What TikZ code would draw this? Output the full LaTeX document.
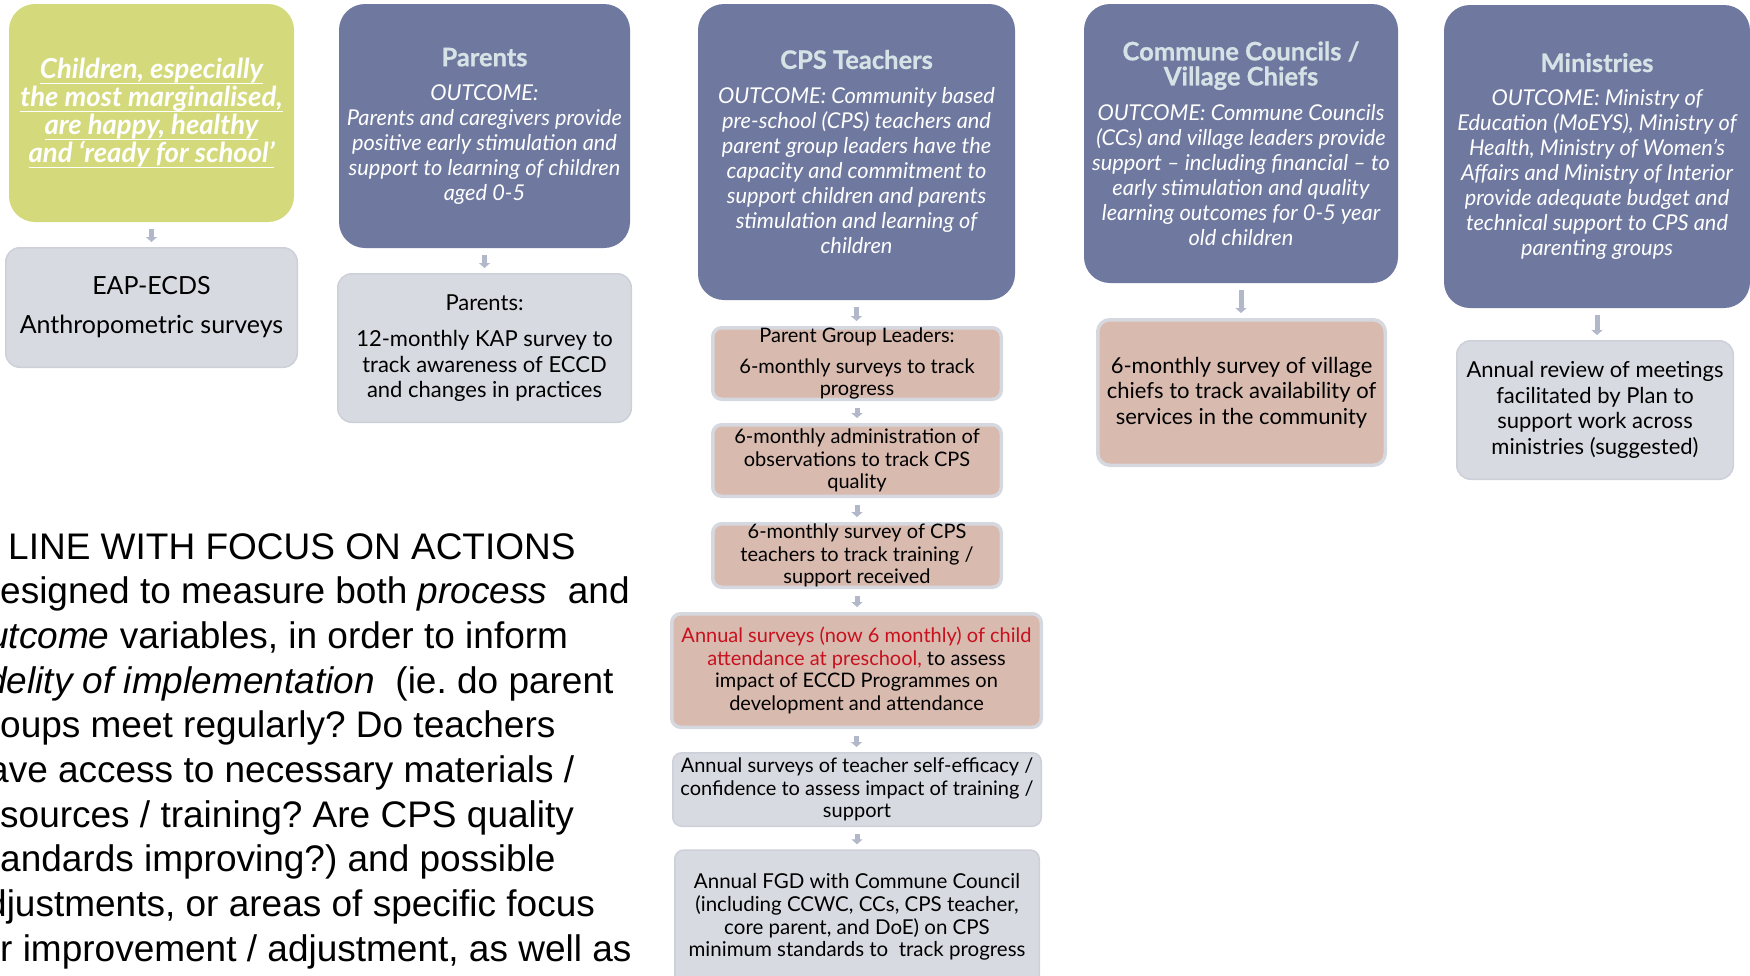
\documentclass[tikz,border=0pt]{standalone}
\usepackage{fontspec}
\usetikzlibrary{arrows.meta}
\setmainfont{Lato}
\newfontfamily\notefont{Liberation Sans}
\definecolor{goalgreen}{RGB}{212,218,123}
\definecolor{outcomeblue}{RGB}{111,121,160}
\definecolor{titleblue}{RGB}{214,226,230}
\definecolor{measuregrey}{RGB}{216,218,225}
\definecolor{measureedge}{RGB}{205,208,217}
\definecolor{trackpink}{RGB}{216,186,175}
\definecolor{trackedge}{RGB}{214,216,224}
\definecolor{arrowgrey}{RGB}{178,183,202}
\definecolor{planred}{RGB}{200,16,30}
\newcommand\outtitle[1]{{\color{titleblue}\upshape\bfseries\fontsize{25.5}{26}\selectfont\addfontfeature{FakeBold=0.8}#1}}
% underline at a fixed depth below the baseline
\newcommand\uln[1]{\setbox0\hbox{#1}\rlap{\rule[-5.5pt]{\wd0}{1.2pt}}\box0}
\frenchspacing
\begin{document}
\begin{tikzpicture}[x=1pt, y=-1pt, line join=round,
	goalbox/.style={fill=goalgreen, rounded corners=26pt, text=white, align=center, inner sep=0pt, font=\fontsize{27.5}{28}\selectfont\bfseries\itshape},
	outcome/.style={fill=outcomeblue, rounded corners=26pt, text=white, align=center, inner sep=0pt, font=\fontsize{21.8}{25}\selectfont\itshape},
	measure/.style={fill=measuregrey, draw=measureedge, line width=1.5pt, rounded corners=14pt, align=center, inner sep=0pt, font=\fontsize{22}{25.5}\selectfont},
	track/.style={fill=trackpink, draw=trackedge, line width=3.5pt, rounded corners=12pt, align=center, inner sep=0pt, font=\fontsize{22}{25.5}\selectfont},
	small/.style={rounded corners=9pt, font=\fontsize{20}{22.5}\selectfont},
	note/.style={inner sep=0pt, font=\notefont\fontsize{37}{44}\selectfont\frenchspacing},
	flow/.style={arrowgrey, line width=5pt, -{Triangle[width=11pt,length=5pt]}, shorten <=7pt, shorten >=5pt}]
	\useasboundingbox (0,0) rectangle (1750,975);
	\fill[white] (0,0) rectangle (1750,975);
	\clip (0,0) rectangle (1750,975);

	% outcome row
	\node[goalbox, minimum width=285, minimum height=218] (goal) at (151.5,113)
		{\uln{Children, especially}\\\uln{the most marginalised,}\\\uln{are happy, healthy}\\\uln{and ‘ready for school’}};
	\node[outcome, minimum width=291, minimum height=244] (par) at (484.5,126)
		{\outtitle{Parents}\\[9pt]OUTCOME:\\Parents and caregivers provide\\positive early stimulation and\\support to learning of children\\aged 0-5};
	\node[outcome, minimum width=317, minimum height=296] (cps) at (856.5,152)
		{\outtitle{CPS Teachers}\\[10pt]OUTCOME: Community based\\pre-school (CPS) teachers and\\parent group leaders have the\\capacity and commitment to\\support children and parents\\stimulation and learning of\\children};
	\node[outcome, minimum width=314, minimum height=279] (cc) at (1241,143.5)
		{\outtitle{Commune Councils /}\\\outtitle{Village Chiefs}\\[10pt]OUTCOME: Commune Councils\\(CCs) and village leaders provide\\support – including financial – to\\early stimulation and quality\\learning outcomes for 0-5 year\\old children};
	\node[outcome, minimum width=306, minimum height=303] (min) at (1597,156.5)
		{\outtitle{Ministries}\\[9pt]OUTCOME: Ministry of\\Education (MoEYS), Ministry of\\Health, Ministry of Women’s\\Affairs and Ministry of Interior\\provide adequate budget and\\technical support to CPS and\\parenting groups};

	% measures
	\node[measure, minimum width=291.5, minimum height=119.5, font=\fontsize{25}{28}\selectfont] (eap) at (151.5,307.5)
		{EAP-ECDS\\[11pt]Anthropometric surveys};
	\node[measure, minimum width=293.5, minimum height=148.5] (kap) at (484.5,348)
		{Parents:\\[11pt]12-monthly KAP survey to\\track awareness of ECCD\\and changes in practices};
	\node[track, small, minimum width=288.5, minimum height=71.5] (pgl) at (857,363.5)
		{Parent Group Leaders:\\[8pt]6-monthly surveys to track\\progress};
	\node[track, small, minimum width=288.5, minimum height=71.5] (obs) at (857,460.5)
		{6-monthly administration of\\observations to track CPS\\quality};
	\node[track, small, minimum width=288.5, minimum height=63.5] (train) at (857,555.5)
		{6-monthly survey of CPS\\teachers to track training /\\support received};
	\node[track, small, minimum width=369.5, minimum height=113.5] (attend) at (856.5,670.5)
		{\textcolor{planred}{Annual surveys (now 6 monthly) of child}\\\textcolor{planred}{attendance at preschool,} to assess\\impact of ECCD Programmes on\\development and attendance};
	\node[measure, small, minimum width=368.5, minimum height=73.5] (selfeff) at (857,789.5)
		{Annual surveys of teacher self-efficacy /\\confidence to assess impact of training /\\support};
	\node[measure, small, minimum width=364.5, minimum height=134, font=\fontsize{20.5}{22.8}\selectfont] (fgd) at (857,917)
		{Annual FGD with Commune Council\\(including CCWC, CCs, CPS teacher,\\core parent, and DoE) on CPS\\minimum standards to\ \ track progress};
	\node[track, minimum width=287.5, minimum height=145.5] (chiefs) at (1241.5,392.5)
		{6-monthly survey of village\\chiefs to track availability of\\services in the community};
	\node[measure, minimum width=276.5, minimum height=138.5] (review) at (1595,410)
		{Annual review of meetings\\facilitated by Plan to\\support work across\\ministries (suggested)};

	\foreach \a/\b in {goal/eap, par/kap, cps/pgl, pgl/obs, obs/train, train/attend, attend/selfeff, selfeff/fgd, cc/chiefs, min/review}
		\draw[flow] (\a.south) -- (\a.south |- \b.north);

	% notes on the left
	\foreach \dx/\txt [count=\i] in {8/{LINE WITH FOCUS ON ACTIONS}, 0/{esigned to measure both \textit{process}\ \ and},
		-12/{\textit{utcome} variables, in order to inform}, -14/{\textit{delity of implementation}\ \ (ie. do parent},
		0/{oups meet regularly? Do teachers}, -12/{ave access to necessary materials /}, 0/{sources / training? Are CPS quality},
		0/{andards improving?) and possible}, -14/{djustments, or areas of specific focus}, 0/{r improvement / adjustment, as well as}}
		\node[note, anchor=base west] (note\i) at (\dx,514.3+44.7*\i) {\txt};
\end{tikzpicture}
\end{document}
